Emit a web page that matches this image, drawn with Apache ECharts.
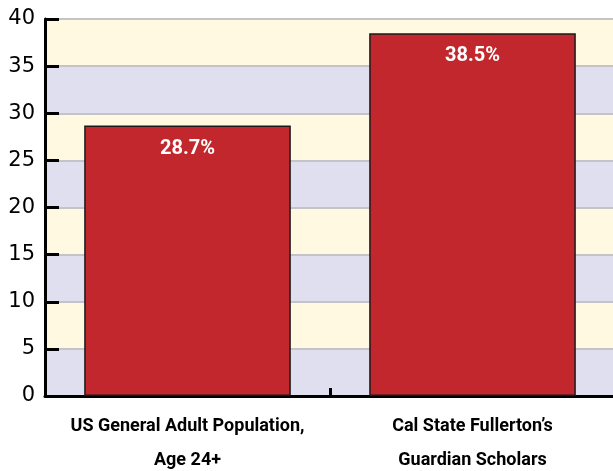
<!DOCTYPE html>
<html>
<head>
<meta charset="utf-8">
<script src="https://cdn.jsdelivr.net/npm/echarts@6/dist/echarts.min.js"></script>
<style>
html,body{margin:0;padding:0;background:#fff;}
#chart{width:613px;height:471px;}
</style>
</head>
<body>
<div id="chart"></div>
<script>
// data
var categories = ['US General Adult Population,\nAge 24+', 'Cal State Fullerton\u2019s\nGuardian Scholars'];
var values = [28.7, 38.5];
var yTicks = [0, 5, 10, 15, 20, 25, 30, 35, 40];

var narrow = "Roboto, 'Liberation Sans', sans-serif";

var myChart = echarts.init(document.getElementById('chart'));
myChart.setOption({
    animation: false,
    grid: {left: 45, top: 19, right: -2, bottom: 75, outerBoundsMode: 'none'},
    xAxis: {
        type: 'category',
        data: categories,
        axisLine: {lineStyle: {color: '#000', width: 3}},
        axisTick: {show: true, inside: true, length: 8, lineStyle: {color: '#000', width: 3}},
        axisLabel: {
            color: '#000', fontFamily: narrow, fontSize: 18, fontWeight: 'bold',
            lineHeight: 34, margin: 13, interval: 0
        }
    },
    yAxis: {
        type: 'value',
        min: yTicks[0],
        max: yTicks[yTicks.length - 1],
        interval: 5,
        axisLine: {show: true, lineStyle: {color: '#000', width: 3}},
        axisTick: {show: true, inside: true, length: 14, lineStyle: {color: '#000', width: 3}},
        axisLabel: {color: '#000', fontFamily: "'DejaVu Sans', sans-serif", fontSize: 21, margin: 10},
        splitLine: {show: true, lineStyle: {color: '#c4c4c8', width: 2}},
        splitArea: {show: true, areaStyle: {color: ['#e0dfef', '#fef9e0']}}
    },
    series: [{
        type: 'bar',
        data: values,
        barWidth: '72.5%',
        itemStyle: {color: '#c1272d', borderColor: '#1a1a1a', borderWidth: 1.5},
        label: {
            show: true, position: 'insideTop', distance: 13,
            color: '#fff', fontFamily: narrow, fontSize: 20, fontWeight: 'bold',
            formatter: function (p) { return p.value.toFixed(1) + '%'; }
        }
    }]
});
</script>
</body>
</html>
